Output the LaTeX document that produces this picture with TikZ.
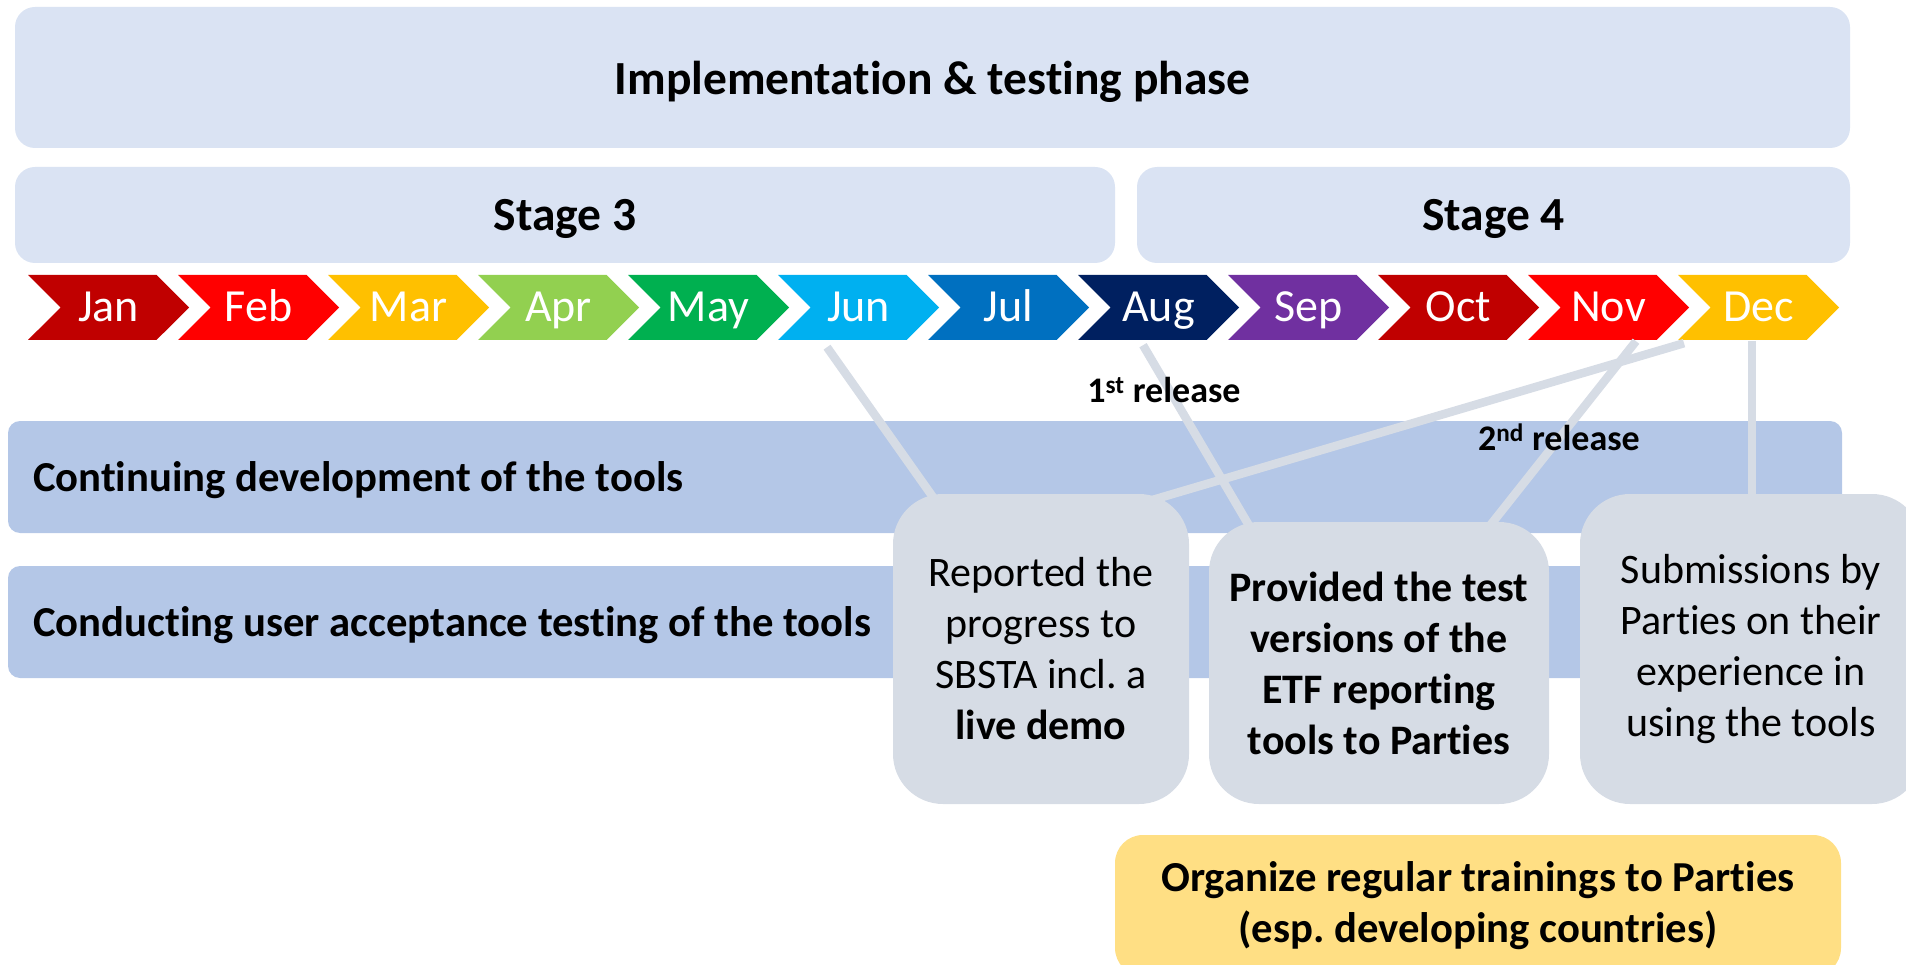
\documentclass[tikz,border=0pt]{standalone}
\usepackage{fontspec}
\setmainfont{Carlito}[Ligatures=NoCommon]
\usetikzlibrary{shapes.symbols}
\frenchspacing

\definecolor{phasefill}{HTML}{DAE3F3}
\definecolor{bandfill}{HTML}{B4C7E7}
\definecolor{calloutfill}{HTML}{D6DCE5}
\definecolor{trainfill}{HTML}{FFDF84}
\definecolor{deepred}{HTML}{C00000}
\definecolor{brightred}{HTML}{FF0000}
\definecolor{amber}{HTML}{FFC000}
\definecolor{lightgreen}{HTML}{92D050}
\definecolor{midgreen}{HTML}{00B050}
\definecolor{skyblue}{HTML}{00B0F0}
\definecolor{midblue}{HTML}{0070C0}
\definecolor{navy}{HTML}{002060}
\definecolor{monthpurple}{HTML}{7030A0}

\pgfdeclarelayer{background}
\pgfdeclarelayer{links}
\pgfsetlayers{background,links,main}

\begin{document}
\begin{tikzpicture}[x=1pt,y=-1pt,
    phasebox/.style={fill=phasefill, rounded corners=20pt, inner sep=0pt, text depth=0pt, font=\fontsize{47.5}{56}\selectfont\bfseries},
    month/.style={signal, signal from=west, signal to=east, signal pointer angle=90, minimum width=161pt, minimum height=65pt, inner sep=0pt, text height=29pt, text depth=0pt, text=white, font=\fontsize{46}{52}\selectfont},
    band/.style={fill=bandfill, rounded corners=12pt, minimum width=1834pt, minimum height=112pt, inner sep=0pt},
    bandtext/.style={inner sep=0pt, text depth=0pt, font=\fontsize{42.7}{50}\selectfont\bfseries},
    callout/.style={fill=calloutfill, rounded corners=50pt, align=center, inner sep=0pt, font=\fontsize{42}{51}\selectfont},
    calloutbold/.style={callout, font=\fontsize{42}{51}\selectfont\bfseries},
    link/.style={draw=calloutfill, line width=8.5pt},
    release/.style={inner sep=0pt, font=\fontsize{36}{43}\selectfont\bfseries}]
    \useasboundingbox (0,0) rectangle (1906,965);

    \begin{pgfonlayer}{background}
    % phase and stages
    \node[phasebox, minimum width=1835pt, minimum height=141pt] (phase) at (932.5,77.5) {Implementation \& testing phase};
    \node[phasebox, minimum width=1100pt, minimum height=96pt] (stage3) at (565,215) {Stage 3};
    \node[phasebox, minimum width=713pt, minimum height=96pt] (stage4) at (1493.5,215) {Stage 4};

    % months
    \foreach \m/\c [count=\i from 0] in {Jan/deepred, Feb/brightred, Mar/amber, Apr/lightgreen, May/midgreen, Jun/skyblue, Jul/midblue, Aug/navy, Sep/monthpurple, Oct/deepred, Nov/brightred, Dec/amber}
        \node[month, fill=\c] (\m) at ({108.5+150*\i},307.5) {\m};

    % activity bands
    \node[band] (devband) at (925,477) {};
    \node[bandtext, anchor=west] (devtext) at ([xshift=25pt]devband.west) {Continuing development of the tools};
    \node[band] (uatband) at (925,622) {};
    \node[bandtext, anchor=west] (uattext) at ([xshift=25pt]uatband.west) {Conducting user acceptance testing of the tools};
    \end{pgfonlayer}

    % milestones
    \node[callout, minimum width=296pt, minimum height=310pt] (reported) at (1041,649) {Reported the\\progress to\\SBSTA incl. a\\\textbf{live demo}};
    \node[calloutbold, minimum width=340pt, minimum height=282pt] (provided) at (1379,663) {Provided the test\\versions of the\\ETF reporting\\tools to Parties};
    \node[callout, minimum width=342pt, minimum height=310pt] (submissions) at (1751,649) {Submissions by\\Parties on their\\experience in\\using the tools};

    \node[fill=trainfill, rounded corners=28pt, minimum width=726pt, minimum height=141pt, align=center, inner sep=0pt, font=\fontsize{42.7}{51}\selectfont\bfseries] (training) at (1478,905.5) {Organize regular trainings to Parties\\(esp. developing countries)};

    % connectors
    \begin{pgfonlayer}{links}
    \draw[link] ([xshift=-31.5pt,yshift=-7pt]Jun.south) -- ([xshift=-98pt,yshift=-17.5pt]reported.north);
    \draw[link] ([xshift=-15.5pt,yshift=-5pt]Aug.south) -- ([xshift=-121pt,yshift=-19pt]provided.north);
    \draw[link] ([xshift=27.5pt,yshift=-1pt]Nov.south) -- ([xshift=99pt,yshift=-19pt]provided.north);
    \draw[link] ([xshift=-74.5pt,yshift=-3pt]Dec.south) -- ([xshift=73pt,yshift=-17.5pt]reported.north);
    \draw[link] ([xshift=-6.5pt,yshift=-1pt]Dec.south) -- ([xshift=1pt,yshift=-17pt]submissions.north);
    \end{pgfonlayer}

    \node[release] (rel1) at (1164,390) {1\textsuperscript{st} release};
    \node[release] (rel2) at (1559,437) {2\textsuperscript{nd} release};
\end{tikzpicture}
\end{document}
